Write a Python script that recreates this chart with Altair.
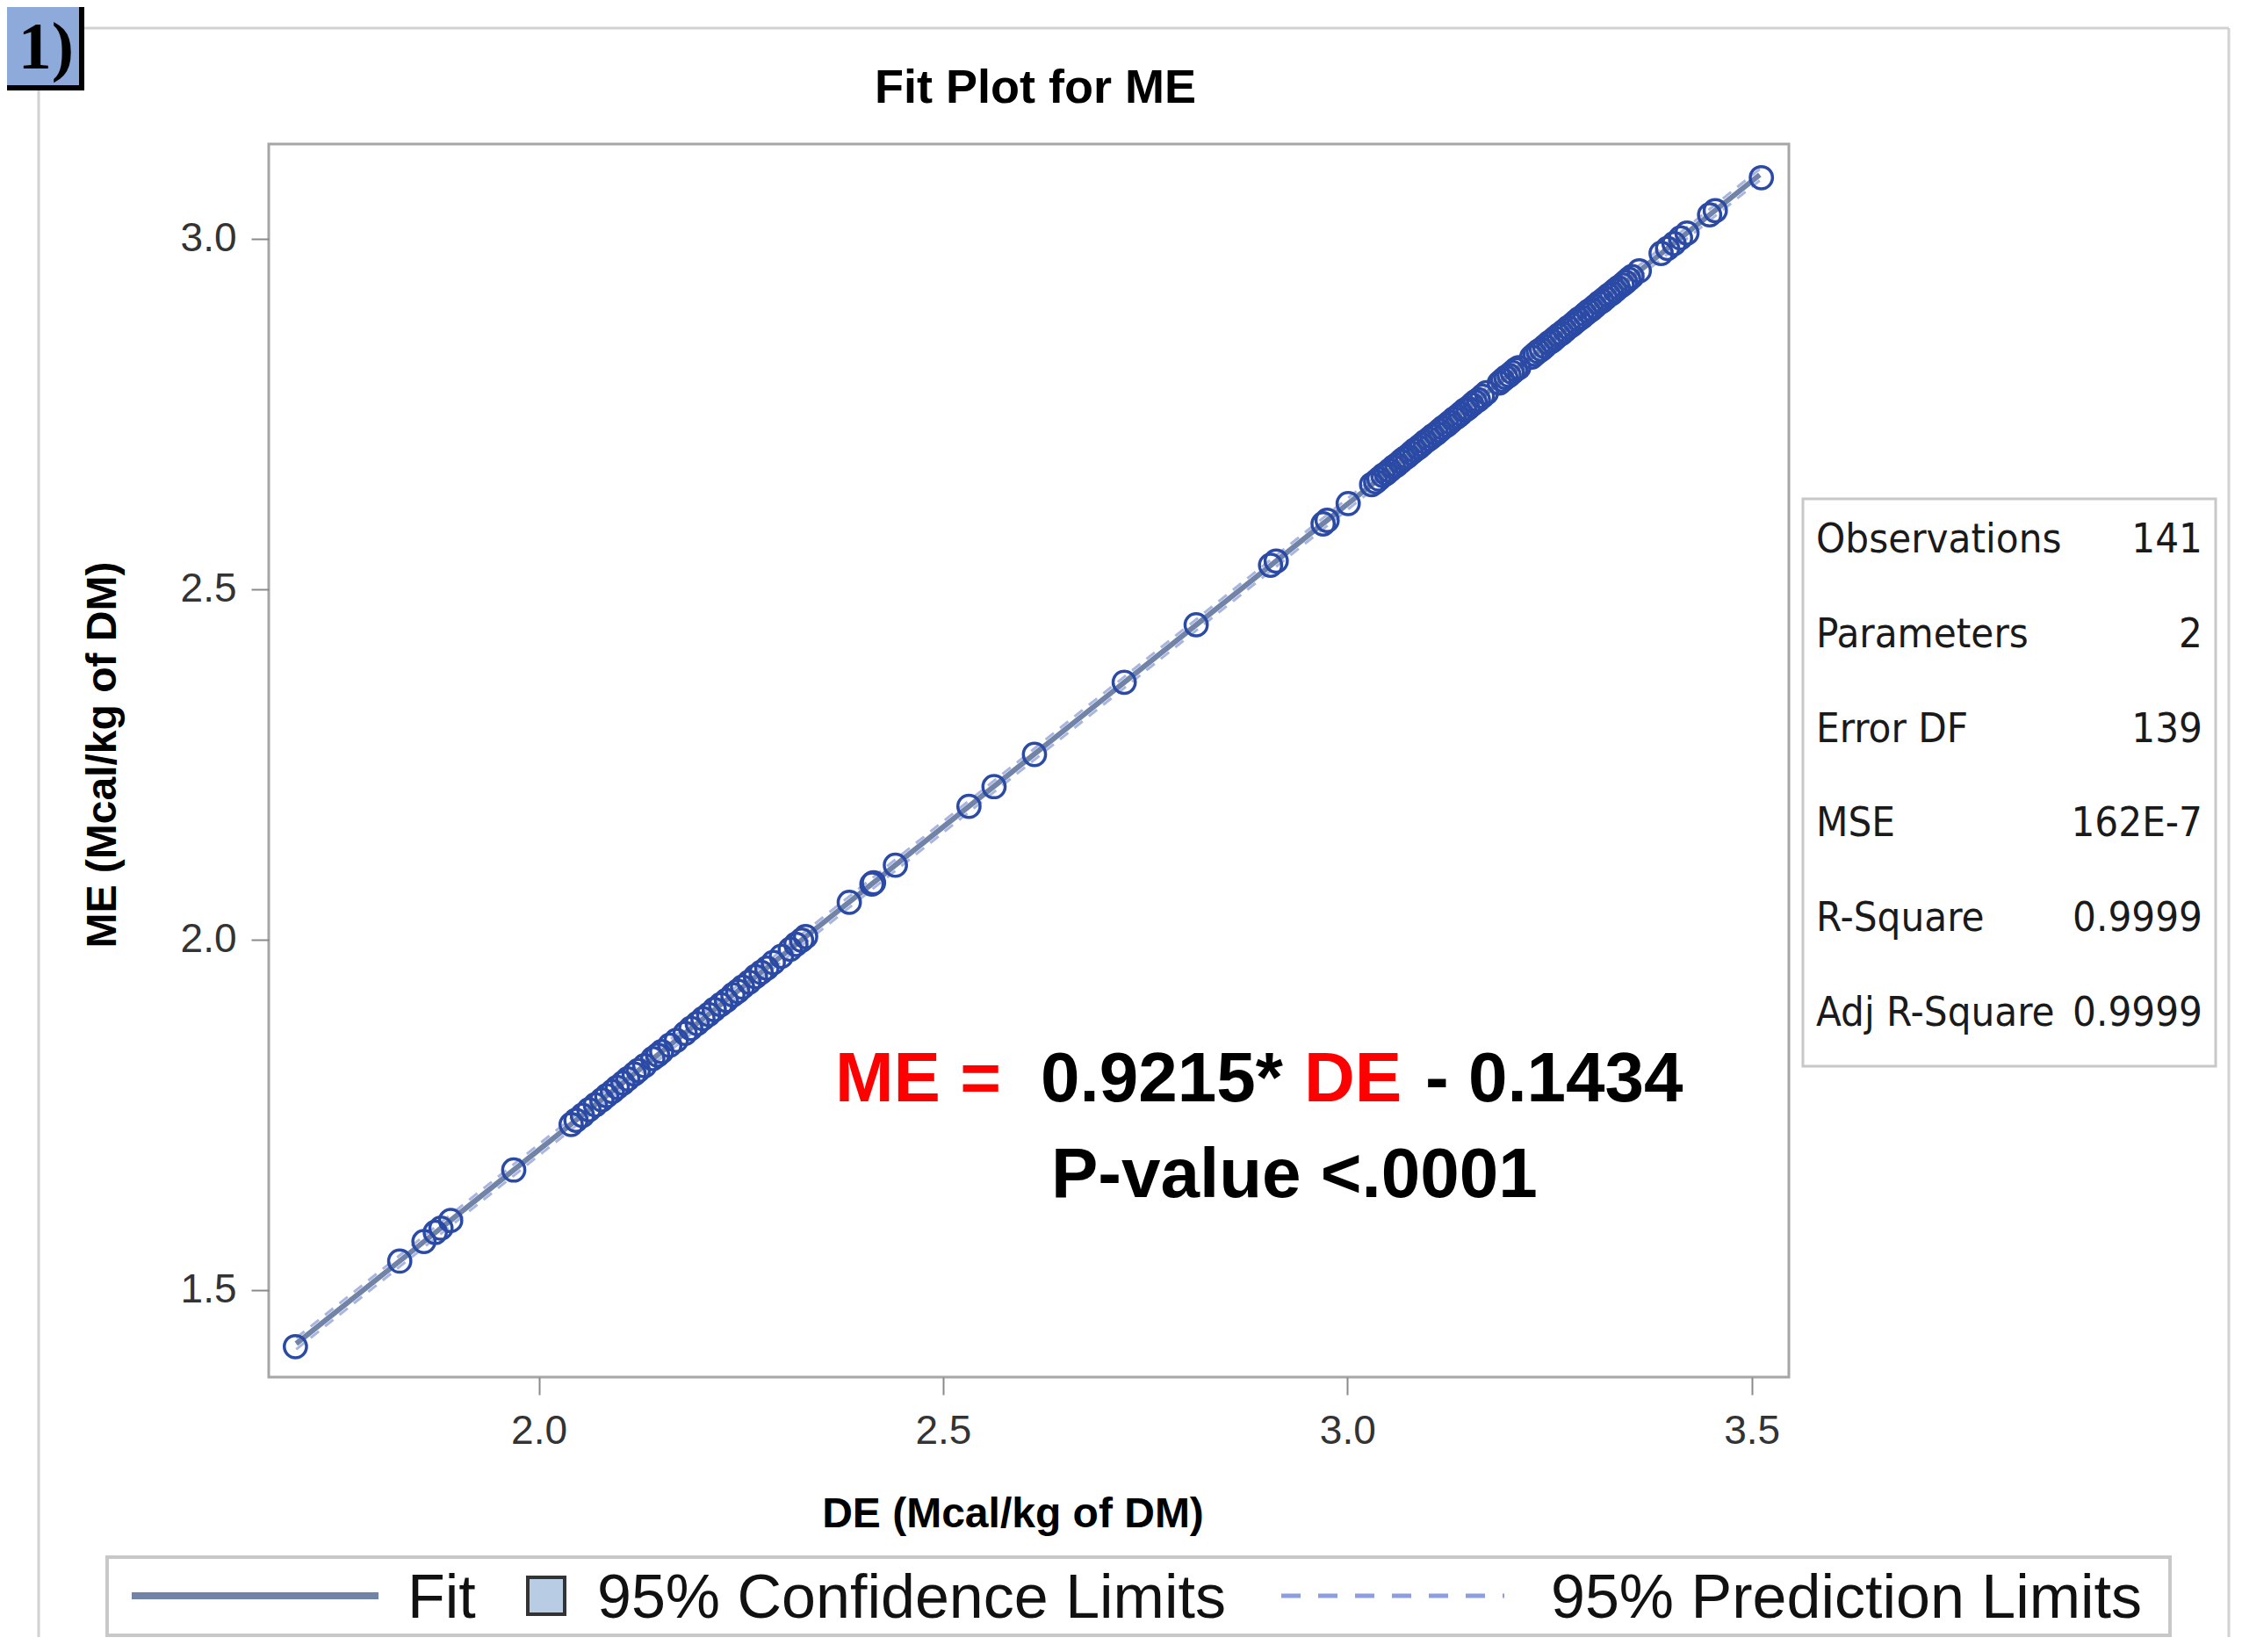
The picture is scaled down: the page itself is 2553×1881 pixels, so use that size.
import altair as alt
import pandas as pd

# ---------------- data ----------------
de = [1.699, 1.828, 1.858, 1.872, 1.879, 1.891, 1.969,
      2.040, 2.046, 2.054, 2.062, 2.070, 2.078, 2.084, 2.091, 2.097, 2.104,
      2.110, 2.118, 2.123, 2.131, 2.141, 2.147, 2.152, 2.162, 2.170, 2.181,
      2.188, 2.196, 2.203, 2.210, 2.217, 2.225, 2.232, 2.240, 2.246, 2.252,
      2.260, 2.268, 2.275, 2.282, 2.290, 2.300, 2.311, 2.318, 2.325, 2.330,
      2.384, 2.412, 2.414, 2.441, 2.532, 2.563, 2.613, 2.724, 2.813, 2.905,
      2.912, 2.970, 2.975, 3.001,
      3.030, 3.035, 3.039, 3.044, 3.048, 3.052, 3.057, 3.061, 3.066, 3.070,
      3.074, 3.079, 3.083, 3.088, 3.092, 3.096, 3.101, 3.105, 3.110, 3.114,
      3.118, 3.123, 3.127, 3.132, 3.136, 3.140, 3.145, 3.149, 3.154, 3.158,
      3.162, 3.167, 3.172,
      3.188, 3.192, 3.196, 3.200, 3.204, 3.208, 3.212,
      3.228, 3.232, 3.236, 3.240, 3.244, 3.249, 3.253, 3.257, 3.261, 3.265,
      3.269, 3.273, 3.278, 3.282, 3.286, 3.290, 3.294, 3.298, 3.302, 3.306,
      3.311, 3.315, 3.319, 3.323, 3.327, 3.331, 3.335, 3.340, 3.344, 3.348,
      3.352,
      3.361, 3.388, 3.396, 3.404, 3.412, 3.420, 3.448, 3.455, 3.512]

me = [1.419, 1.541, 1.569, 1.582, 1.588, 1.599, 1.671,
      1.736, 1.742, 1.749, 1.757, 1.764, 1.771, 1.777, 1.783, 1.789, 1.795,
      1.801, 1.808, 1.813, 1.820, 1.830, 1.835, 1.840, 1.849, 1.856, 1.866,
      1.873, 1.880, 1.887, 1.893, 1.900, 1.907, 1.913, 1.921, 1.926, 1.932,
      1.939, 1.947, 1.953, 1.959, 1.967, 1.976, 1.986, 1.993, 1.999, 2.004,
      2.053, 2.079, 2.081, 2.106, 2.190, 2.218, 2.264, 2.367, 2.449, 2.534,
      2.540, 2.593, 2.598, 2.622,
      2.649, 2.653, 2.657, 2.662, 2.665, 2.669, 2.674, 2.677, 2.682, 2.686,
      2.689, 2.694, 2.698, 2.702, 2.706, 2.710, 2.714, 2.718, 2.722, 2.726,
      2.730, 2.734, 2.738, 2.743, 2.746, 2.750, 2.755, 2.758, 2.763, 2.767,
      2.770, 2.775, 2.780,
      2.794, 2.798, 2.802, 2.805, 2.809, 2.813, 2.816,
      2.831, 2.835, 2.839, 2.842, 2.846, 2.851, 2.854, 2.858, 2.862, 2.865,
      2.869, 2.873, 2.877, 2.881, 2.885, 2.888, 2.892, 2.896, 2.899, 2.903,
      2.908, 2.911, 2.915, 2.919, 2.922, 2.926, 2.930, 2.934, 2.938, 2.942,
      2.946,
      2.954, 2.979, 2.986, 2.993, 3.001, 3.008, 3.034, 3.040, 3.087]

line_de = [1.70, 2.10, 2.60, 3.10, 3.51]
fit_me = [1.4232, 1.7918, 2.2525, 2.7133, 3.0911]
cl_lower = [1.4212, 1.7904, 2.2517, 2.7126, 3.0899]
cl_upper = [1.4252, 1.7932, 2.2533, 2.7140, 3.0923]
pl_lower = [1.4151, 1.7838, 2.2445, 2.7053, 3.0830]
pl_upper = [1.4313, 1.7998, 2.2605, 2.7213, 3.0992]

stat_labels = ["Observations", "Parameters", "Error DF", "MSE", "R-Square", "Adj R-Square"]
stat_values = ["141", "2", "139", "162E-7", "0.9999", "0.9999"]

legend_labels = ["Fit", "95% Confidence Limits", "95% Prediction Limits"]

eq_parts = ["ME =", "0.9215*", "DE", "- 0.1434"]
eq_colors = ["#ff0000", "#000000", "#ff0000", "#000000"]
eq_de = [2.3665, 2.6207, 2.9465, 3.0964]
eq_me = 1.769
pval_text = "P-value <.0001"
pval_de = 2.6337
pval_me = 1.6324

x_ticks = [2.0, 2.5, 3.0, 3.5]
y_ticks = [1.5, 2.0, 2.5, 3.0]
x_domain = [1.666, 3.546]
y_domain = [1.3755, 3.135]

# ---------------- layout ----------------
W, H = 1731, 1404
FONT = "Liberation Sans, Arial, sans-serif"
NARROW = "DejaVu Sans Condensed, Liberation Sans Narrow, sans-serif"

xs = alt.Scale(domain=x_domain, nice=False, zero=False)
ys = alt.Scale(domain=y_domain, nice=False, zero=False)

xaxis = alt.Axis(values=x_ticks, format=".1f", title="DE (Mcal/kg of DM)",
                 domain=False, grid=False, ticks=True, tickSize=20, tickWidth=2,
                 tickColor="#8a8a8a", labelFontSize=46, labelFont=FONT,
                 labelColor="#333333", labelPadding=19, titleFontSize=48,
                 titleFont=FONT, titleFontWeight="bold", titleColor="black",
                 titleX=847, titleY=170, titleBaseline="alphabetic", titleAlign="center")
yaxis = alt.Axis(values=y_ticks, format=".1f", title="ME (Mcal/kg of DM)",
                 domain=False, grid=False, ticks=True, tickSize=20, tickWidth=2,
                 tickColor="#8a8a8a", labelFontSize=46, labelFont=FONT,
                 labelColor="#333333", labelPadding=17, titleFontSize=48,
                 titleFont=FONT, titleFontWeight="bold", titleColor="black",
                 titleAngle=270, titleX=-189, titleY=695, titleBaseline="middle",
                 titleAlign="center")


def xe(f):
    return alt.X(f, type="quantitative", scale=xs, axis=xaxis)


def ye(f):
    return alt.Y(f, type="quantitative", scale=ys, axis=yaxis)


pts = pd.DataFrame({"DE": de, "ME": me})
lines = pd.DataFrame({"DE": line_de, "fit": fit_me, "cl_lo": cl_lower,
                      "cl_hi": cl_upper, "pl_lo": pl_lower, "pl_hi": pl_upper})

layers = []
layers.append(alt.Chart(lines).mark_area(color="#b8cce4", opacity=1).encode(
    x=xe("DE"), y=ye("cl_lo"), y2=alt.Y2("cl_hi")))
for col in ["pl_lo", "pl_hi"]:
    layers.append(alt.Chart(lines).mark_line(color="#93a3d6", strokeWidth=3,
                                             strokeDash=[12, 9], opacity=0.8).encode(
        x=xe("DE"), y=ye(col)))
layers.append(alt.Chart(lines).mark_line(color="#7184a8", strokeWidth=6).encode(
    x=xe("DE"), y=ye("fit")))
layers.append(alt.Chart(pts).mark_point(shape="circle", filled=False, size=640,
                                        strokeWidth=3.5, color="#2b4aa5", opacity=1).encode(
    x=xe("DE"), y=ye("ME")))

# equation annotation (in data coordinates)
for txt_, col, xv in zip(eq_parts, eq_colors, eq_de):
    d = pd.DataFrame({"DE": [xv], "ME": [eq_me], "t": [txt_]})
    layers.append(alt.Chart(d).mark_text(align="left", baseline="alphabetic",
                                         font=FONT, fontSize=80, fontWeight="bold",
                                         color=col).encode(
        x=xe("DE"), y=ye("ME"), text="t:N"))
d = pd.DataFrame({"DE": [pval_de], "ME": [pval_me], "t": [pval_text]})
layers.append(alt.Chart(d).mark_text(align="left", baseline="alphabetic", font=FONT,
                                     fontSize=80, fontWeight="bold", color="black").encode(
    x=xe("DE"), y=ye("ME"), text="t:N"))


def one(t=""):
    return pd.DataFrame({"t": [t]})


def txt(t, x, y, size, align="left", weight="normal", font=FONT, color="black"):
    return alt.Chart(one(t)).mark_text(align=align, baseline="alphabetic", font=font,
                                       fontSize=size, fontWeight=weight, color=color).encode(
        x=alt.value(x), y=alt.value(y), text="t:N")


# title
layers.append(txt("Fit Plot for ME", 873, -47, 54, align="center", weight="bold"))

# statistics inset
layers.append(alt.Chart(one()).mark_rect(fill="white", stroke="#c8c8c8", strokeWidth=3).encode(
    x=alt.value(1747), x2=alt.value(2217), y=alt.value(404), y2=alt.value(1050)))
SF = 47
for i, (lab, val) in enumerate(zip(stat_labels, stat_values)):
    cy = 448 + i * 107.8 + 0.36 * SF
    layers.append(txt(lab, 1762, cy, SF, font=NARROW, color="#1a1a1a"))
    layers.append(txt(val, 2202, cy, SF, align="right", font=NARROW, color="#1a1a1a"))

# legend
LY = 1653
layers.append(alt.Chart(one()).mark_rect(fill="white", stroke="#c8c8c8", strokeWidth=4).encode(
    x=alt.value(-184), x2=alt.value(2165), y=alt.value(1609), y2=alt.value(1698)))
layers.append(alt.Chart(one()).mark_rule(color="#7184a8", strokeWidth=8).encode(
    x=alt.value(-156), x2=alt.value(125), y=alt.value(LY)))
layers.append(alt.Chart(one()).mark_rect(fill="#b8cce4", stroke="#333333", strokeWidth=4).encode(
    x=alt.value(295), x2=alt.value(337), y=alt.value(1632), y2=alt.value(1674)))
layers.append(alt.Chart(one()).mark_rule(color="#8c9ee0", strokeWidth=5, strokeDash=[22, 20]).encode(
    x=alt.value(1153), x2=alt.value(1407), y=alt.value(LY)))
LF = 70
for lab, xv in zip(legend_labels, [158, 374, 1460]):
    layers.append(txt(lab, xv, LY + 0.358 * LF, LF, color="#111111"))

# outer frame of the graph and panel label
for (x1, x2, y1, y2) in [(-211, 2232, -132, -132), (-262, -262, -62, 1700), (2232, 2232, -132, 1700)]:
    layers.append(alt.Chart(one()).mark_rule(color="#d2d2d2", strokeWidth=3).encode(
        x=alt.value(x1), x2=alt.value(x2), y=alt.value(y1), y2=alt.value(y2)))
layers.append(alt.Chart(one()).mark_rect(fill="#8eaadb", stroke="black", strokeWidth=6).encode(
    x=alt.value(-320), x2=alt.value(-213), y=alt.value(-180), y2=alt.value(-64)))
layers.append(txt("1)", -222, -86, 76, align="right", weight="bold",
                  font="Liberation Serif, Times New Roman, serif"))

chart = alt.layer(*layers).properties(
    width=W, height=H,
    autosize=alt.AutoSizeParams(type="none"),
    padding={"left": 298, "top": 156, "right": 505, "bottom": 296},
    background="white",
).configure_view(stroke="#a6a6a6", strokeWidth=3)

chart.save("out.html", embed_options={"renderer": "svg", "actions": False})
